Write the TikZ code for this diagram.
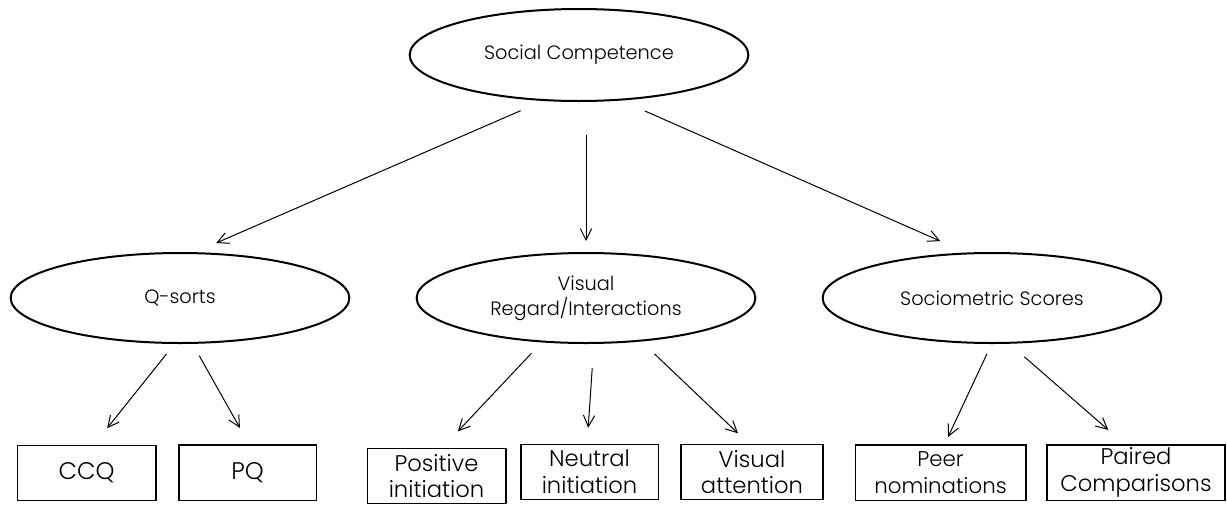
\documentclass[tikz,border=0pt]{standalone}
\usepackage{fontspec}
\setmainfont{Poppins}[UprightFont=* Light]
\usetikzlibrary{arrows.meta,shapes.geometric}

\begin{document}
\begin{tikzpicture}[x=0.75pt,y=-0.75pt,
  oval/.style={ellipse,draw,line width=1.5pt,inner sep=0pt,outer sep=0pt,
    minimum width=254pt,minimum height=67.5pt,align=center,
    font=\fontsize{14.5}{18.5}\selectfont},
  box/.style={rectangle,draw,line width=1pt,inner sep=0pt,outer sep=0pt,
    minimum height=41.5pt,align=center,font=\fontsize{17}{20}\selectfont},
  arr/.style={-{Straight Barb[length=8.5pt,width=8.5pt]},line width=0.75pt}]
  \useasboundingbox (0,0) rectangle (1227,504);

  \node[oval,minimum height=69pt] (social) at (579,55) {Social Competence};
  \node[oval] (qsorts) at (180,298) {Q-sorts};
  \node[oval] (visual) at (586,298) {Visual\\Regard/Interactions};
  \node[oval] (socio) at (992,298) {Sociometric Scores};

  \node[box,minimum width=104pt,font=\fontsize{18}{19}\selectfont] (ccq) at (86.5,473) {CCQ};
  \node[box,minimum width=103pt,font=\fontsize{18}{19}\selectfont] (pq) at (247.5,472.5) {PQ};
  \node[box,minimum width=104pt] (posinit) at (436.5,476) {Positive\\initiation};
  \node[box,minimum width=103pt] (neuinit) at (589.5,472) {Neutral\\initiation};
  \node[box,minimum width=106.5pt] (visatt) at (752,472) {Visual\\attention};
  \node[box,minimum width=128pt,font=\fontsize{16}{20}\selectfont] (peernom) at (940.5,472.5) {Peer\\nominations};
  \node[box,minimum width=133.5pt] (paired) at (1136,472.5) {Paired\\Comparisons};

  \draw[arr,shorten <=20pt,shorten >=19pt] (social.233) -- (qsorts.74);
  \draw[arr,shorten <=25.5pt,shorten >=9pt] (visual.north |- social.south) -- (visual.north);
  \draw[arr,shorten <=21pt,shorten >=23pt] (social.312) -- (socio.118);

  \draw[arr,shorten <=10.5pt,shorten >=16.5pt] (qsorts.264) -- (ccq.76);
  \draw[arr,shorten <=11pt,shorten >=14.5pt] (qsorts.285) -- (pq.86);
  \draw[arr,shorten <=12pt,shorten >=17.5pt] (visual.225) -- (posinit.79);
  \draw[arr,shorten <=19pt,shorten >=12.5pt] (visual.280) -- (neuinit.95);
  \draw[arr,shorten <=14.5pt,shorten >=12pt] (visual.322) -- (visatt.95);
  \draw[arr,shorten <=9pt,shorten >=6.5pt] (socio.270) -- (peernom.82);
  \draw[arr,shorten <=16pt,shorten >=17pt] (socio.290) -- (paired.111);
\end{tikzpicture}
\end{document}
